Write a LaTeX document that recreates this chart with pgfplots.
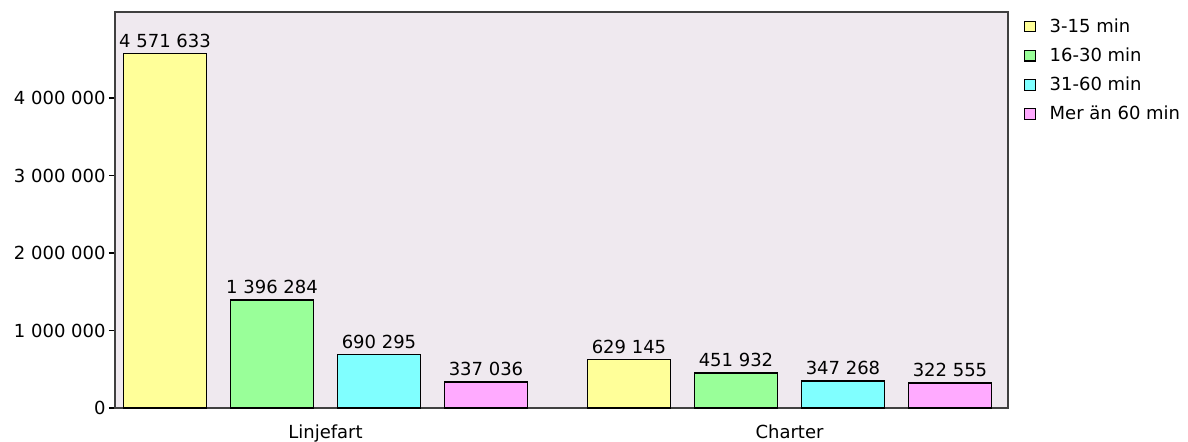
\documentclass[border=0pt]{standalone}
\usepackage{pgfplots}
\pgfplotsset{compat=1.18}
\usepackage{fontspec}
\setmainfont{DejaVu Sans}
\definecolor{bgc}{RGB}{239,233,239}
\definecolor{cyel}{RGB}{255,255,153}
\definecolor{cgre}{RGB}{153,255,153}
\definecolor{ccya}{RGB}{128,255,255}
\definecolor{cpin}{RGB}{255,170,255}
\definecolor{frm}{RGB}{64,64,64}
\begin{document}
\fontsize{9}{11}\selectfont
\begin{tikzpicture}
\pgfplotsset{
  mybar/.style={ybar, bar width=41.5pt, bar shift=0pt, draw=black, line width=0.75pt, fill=#1,
    legend image code/.code={\path[draw=none, fill=none] (0pt,0pt) -- (11.5pt,0pt);\draw[fill=#1, draw=black, line width=0.6pt] (1pt,-2.6pt) rectangle (6.2pt,2.6pt);}},
}
\begin{axis}[
  at={(0,0)}, anchor=south west,
  scale only axis, width=446.5pt, height=198pt,
  xmin=-0.4537, xmax=1.4709, ymin=0, ymax=5110000,
  axis background/.style={fill=bgc},
  axis line style={draw=frm, line width=1pt},
  xtick={0,1}, xticklabels={Linjefart,Charter}, major x tick style={draw=none},
  xticklabel style={yshift=-2pt},
  ytick={0,1000000,2000000,3000000,4000000},
  yticklabels={0,1 000 000,2 000 000,3 000 000,4 000 000},
  scaled y ticks=false,
  yticklabel style={inner sep=1.5pt},
  ytick pos=left, tick align=outside, major tick length=3pt,
  major y tick style={draw=black, line width=0.6pt},
  tick label style={font=\fontsize{9}{11}\selectfont},
  point meta=explicit symbolic,
  nodes near coords,
  every node near coord/.append style={font=\fontsize{9}{11}\selectfont, inner sep=2.6pt},
  legend style={at={(rel axis cs:1.016,0.995)}, anchor=north west, draw=none, fill=none,
    font=\fontsize{9}{11}\selectfont, row sep=2.4pt, inner sep=0pt},
  legend cell align=left,
  clip=false,
]
\addplot[mybar=cyel] coordinates {(-0.3459,4571633) [4 571 633] (0.6541,629145) [629 145]};
\addplot[mybar=cgre] coordinates {(-0.1153,1396284) [1 396 284] (0.8847,451932) [451 932]};
\addplot[mybar=ccya] coordinates {(0.1153,690295) [690 295] (1.1153,347268) [347 268]};
\addplot[mybar=cpin] coordinates {(0.3459,337036) [337 036] (1.3459,322555) [322 555]};
\legend{3-15 min, 16-30 min, 31-60 min, Mer än 60 min}
\end{axis}
\pgfresetboundingbox
\path[use as bounding box] (-57.5pt,-16.5pt) rectangle (536.5pt,204pt);
\end{tikzpicture}
\end{document}
